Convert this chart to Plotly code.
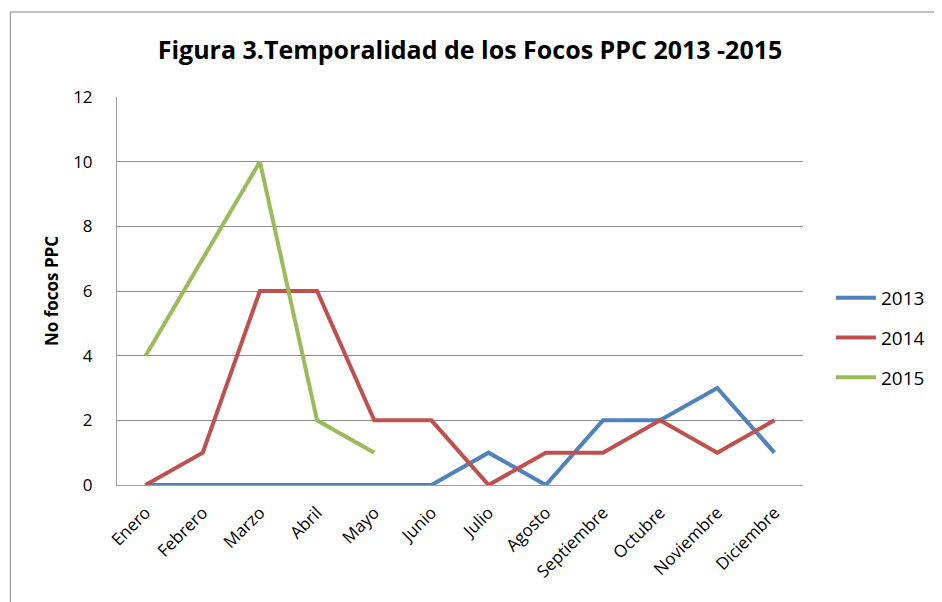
import plotly.graph_objects as go

meses = ["Enero", "Febrero", "Marzo", "Abril", "Mayo", "Junio", "Julio",
         "Agosto", "Septiembre", "Octubre", "Noviembre", "Diciembre"]
v2013 = [0, 0, 0, 0, 0, 0, 1, 0, 2, 2, 3, 1]
v2014 = [0, 1, 6, 6, 2, 2, 0, 1, 1, 2, 1, 2]
v2015 = [4, 7, 10, 2, 1]
yticks = [0, 2, 4, 6, 8, 10, 12]

OFF = 8  # default body margin of the html page
W, H = 942 - OFF, 602 - OFF
L, R, T, B = 117 - OFF, 805 - OFF, 97 - OFF, 485 - OFF

fig = go.Figure()
for name, vals, col in [("2013", v2013, "#4F81BD"),
                        ("2014", v2014, "#C0504D"),
                        ("2015", v2015, "#9BBB59")]:
    fig.add_trace(go.Scatter(x=meses[:len(vals)], y=vals, mode="lines", name=name,
                             legendgroup=name,
                             line=dict(color=col, width=4)))

pw, ph = R - L, B - T
fig.add_shape(type="rect", xref="paper", yref="paper",
              x0=(10 - OFF - L) / pw, x1=(960 - OFF - L) / pw,
              y0=(B - (620 - OFF)) / ph, y1=(B - (12 - OFF)) / ph,
              line=dict(color="#868686", width=1), layer="below")

fig.update_layout(
    width=W, height=H,
    margin=dict(l=L, r=W - R, t=T, b=H - B),
    paper_bgcolor="white", plot_bgcolor="white",
    font=dict(family="Open Sans, Noto Sans, sans-serif", size=17, color="black"),
    title=dict(text="<b>Figura 3.Temporalidad de los Focos PPC 2013 -2015</b>",
               x=(470 - OFF) / W, xanchor="center", y=1 - (50 - OFF) / H, yanchor="middle",
               font=dict(size=25, family="Open Sans, Noto Sans, sans-serif")),
    showlegend=True,
    legend=dict(x=(833 - OFF - L) / pw, xanchor="left", y=(B - (279 - OFF)) / ph,
                yanchor="top", font=dict(size=19), itemwidth=40, tracegroupgap=12,
                traceorder="grouped", bgcolor="rgba(0,0,0,0)"),
)
fig.update_xaxes(type="category", range=[-0.5, 11.5], tickangle=-45,
                 showline=True, linecolor="#A0A0A0", linewidth=1,
                 showgrid=False, ticks="", tickfont=dict(size=17),
                 ticklabelstandoff=10)
fig.update_yaxes(range=[0, 12], tickvals=yticks, showgrid=True,
                 gridcolor="#8C8C8C", gridwidth=1, showline=True,
                 linecolor="#A0A0A0", linewidth=1, zeroline=False, ticks="",
                 tickfont=dict(size=17), ticklabelstandoff=20,
                 title=dict(text="<b>No focos PPC</b>", font=dict(size=17), standoff=10))

fig.write_html("out.html")
